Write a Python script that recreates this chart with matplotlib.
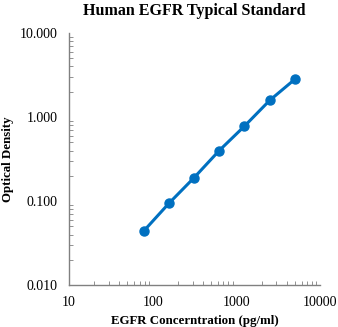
import matplotlib
matplotlib.use("Agg")
import matplotlib.pyplot as plt
from matplotlib.ticker import FixedLocator, LogLocator, NullFormatter

# Standard curve data
konsentrasjon = [78.125, 156.25, 312.5, 625, 1250, 2500, 5000]
od_verdier = [0.044, 0.094, 0.19, 0.40, 0.78, 1.58, 2.82]

x_ticks = [10, 100, 1000, 10000]
x_labels = ["10", "100", "1000", "10000"]
y_ticks = [0.01, 0.1, 1, 10]
y_labels = ["0.010", "0.100", "1.000", "10.000"]

plt.rcParams["font.family"] = ["Liberation Serif", "DejaVu Serif"]

fig = plt.figure(figsize=(3.38, 3.27), dpi=100)
ax = fig.add_axes([0.204, 0.128, 0.743, 0.771])

blue = "#0070C0"
ax.plot(konsentrasjon, od_verdier, color=blue, linewidth=2.2, zorder=2)
ax.plot(konsentrasjon, od_verdier, "o", color=blue, markersize=6.5, zorder=3)

ax.set_xscale("log")
ax.set_yscale("log")
ax.set_xlim(10, 10000)
ax.set_ylim(0.01, 10)

ax.xaxis.set_major_locator(FixedLocator(x_ticks))
ax.set_xticklabels(x_labels)
ax.yaxis.set_major_locator(FixedLocator(y_ticks))
ax.set_yticklabels(y_labels)
ax.xaxis.set_minor_locator(LogLocator(base=10, subs=range(2, 10)))
ax.yaxis.set_minor_locator(LogLocator(base=10, subs=range(2, 10)))
ax.xaxis.set_minor_formatter(NullFormatter())
ax.yaxis.set_minor_formatter(NullFormatter())

grey = "#808080"
for side in ["top", "right"]:
    ax.spines[side].set_visible(False)
for side in ["left", "bottom"]:
    ax.spines[side].set_color(grey)
    ax.spines[side].set_linewidth(1.0)

ax.tick_params(which="both", direction="in", color=grey, labelsize=10)
ax.tick_params(which="major", length=0, pad=8)
ax.tick_params(which="minor", length=3)

ax.set_title("Human EGFR Typical Standard", fontsize=11.5, fontweight="bold", pad=13)
ax.set_xlabel("EGFR Concerntration (pg/ml)", fontsize=9.3, fontweight="bold", labelpad=4)
ax.set_ylabel("Optical Density", fontsize=9.3, fontweight="bold", labelpad=4)

fig.savefig("out.png", dpi=100)
